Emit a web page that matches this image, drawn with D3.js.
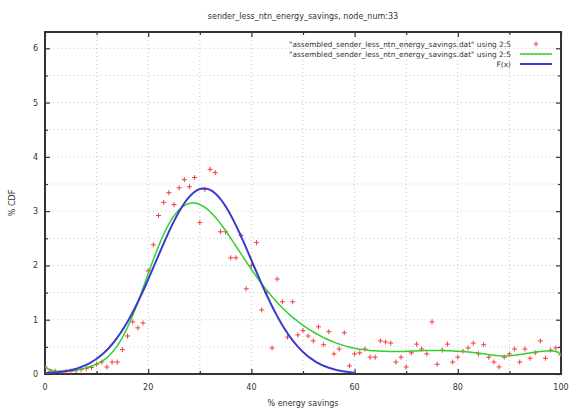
<!DOCTYPE html>
<html><head><meta charset="utf-8">
<script src="https://cdn.jsdelivr.net/npm/d3@7"></script>
<style>
body{margin:0;background:#fff;}
text{font-family:"DejaVu Sans",sans-serif;fill:#333;}
</style></head>
<body><svg id="c" width="571" height="414"></svg>
<script>
const title = "sender_less_ntn_energy_savings, node_num:33";
const xLabel = "% energy savings";
const yLabel = "% CDF";
const legendLabels = ['"assembled_sender_less_ntn_energy_savings.dat" using 2:5',
                      '"assembled_sender_less_ntn_energy_savings.dat" using 2:5',
                      'F(x)'];
const xTicks = [0, 20, 40, 60, 80, 100];
const yTicks = [0, 1, 2, 3, 4, 5, 6];
const xValues = d3.range(0, 101);
const yValues = [0.13,0.05,0.05,0.03,0.04,0.05,0.06,0.08,0.10,0.12,
  0.18,0.22,0.13,0.22,0.22,0.45,0.70,0.96,0.85,0.94,
  1.90,2.38,2.92,3.16,3.34,3.12,3.43,3.58,3.45,3.62,
  2.79,3.40,3.77,3.71,2.62,2.62,2.14,2.14,2.55,1.57,
  2.00,2.42,1.18,1.50,0.48,1.75,1.33,0.68,1.33,0.72,
  0.80,0.70,0.61,0.87,0.54,0.78,0.37,0.46,0.76,0.15,
  0.37,0.39,0.46,0.31,0.31,0.61,0.59,0.57,0.22,0.31,
  0.13,0.39,0.55,0.46,0.37,0.96,0.18,0.44,0.55,0.22,
  0.31,0.42,0.48,0.57,0.37,0.54,0.31,0.22,0.13,0.31,
  0.37,0.46,0.22,0.46,0.29,0.39,0.61,0.29,0.44,0.48,0.35];
// fitted Gaussian F(x) parameters
const fitA = 3.42, fitMu = 30.8, fitSigma = 9.3, fitRange = [0, 60];

const svg = d3.select("#c");
const L = 45, R = 561, T = 32, B = 374;
const x = d3.scaleLinear().domain([0, 100]).range([L, R]);
const y = d3.scaleLinear().domain([0, 6.3]).range([B, T]);

// grid
const g = svg.append("g");
g.selectAll(".gx").data(d3.range(10, 100, 10)).join("line")
  .attr("x1", d => x(d)).attr("x2", d => x(d)).attr("y1", T).attr("y2", B)
  .attr("stroke", "#bbb").attr("stroke-width", 0.8).attr("stroke-dasharray", "1,3");
g.selectAll(".gy").data(d3.range(0.5, 6.3, 0.5)).join("line")
  .attr("y1", d => y(d)).attr("y2", d => y(d)).attr("x1", L).attr("x2", R)
  .attr("stroke", "#bbb").attr("stroke-width", 0.8).attr("stroke-dasharray", "1,3");

// axes via d3
const ax = svg.append("g");
function tk(gen, pos, vals, size) {
  ax.append("g").attr("transform", pos).call(gen.tickValues(vals).tickSize(size).tickFormat(""))
    .call(s => s.select(".domain").remove());
}
tk(d3.axisTop(x), `translate(0,${B})`, xTicks, 5);
tk(d3.axisTop(x), `translate(0,${B})`, d3.range(10, 100, 20), 3);
tk(d3.axisBottom(x), `translate(0,${T})`, xTicks, 5);
tk(d3.axisBottom(x), `translate(0,${T})`, d3.range(10, 100, 20), 3);
tk(d3.axisRight(y), `translate(${L},0)`, yTicks, 5);
tk(d3.axisRight(y), `translate(${L},0)`, d3.range(0.5, 6.3, 1), 3);
tk(d3.axisLeft(y), `translate(${R},0)`, yTicks, 5);
tk(d3.axisLeft(y), `translate(${R},0)`, d3.range(0.5, 6.3, 1), 3);
ax.selectAll("line").attr("stroke", "#333").attr("stroke-width", 1.2);

// tick labels
svg.append("g").selectAll("text").data(xTicks).join("text")
  .attr("x", d => x(d)).attr("y", B + 16).attr("text-anchor", "middle")
  .attr("font-size", 8).text(d => d);
svg.append("g").selectAll("text").data(yTicks).join("text")
  .attr("x", L - 7).attr("y", d => y(d) + 3).attr("text-anchor", "end")
  .attr("font-size", 8).text(d => d);

// border
svg.append("rect").attr("x", L).attr("y", T).attr("width", R - L).attr("height", B - T)
  .attr("fill", "none").attr("stroke", "#333").attr("stroke-width", 2);

svg.append("defs").append("clipPath").attr("id", "cl")
  .append("rect").attr("x", L).attr("y", T).attr("width", R - L).attr("height", B - T);
const plot = svg.append("g").attr("clip-path", "url(#cl)");

const pts = xValues.map((v, i) => [v, yValues[i]]);

// bezier smoothing of the data (gnuplot "smooth bezier")
function bezier(points, t) {
  const p = points.map(d => d.slice());
  const n = p.length;
  for (let k = 1; k < n; k++)
    for (let i = 0; i < n - k; i++) {
      p[i][0] = p[i][0] * (1 - t) + p[i + 1][0] * t;
      p[i][1] = p[i][1] * (1 - t) + p[i + 1][1] * t;
    }
  return p[0];
}
const bz = d3.range(0, 1.0001, 0.005).map(t => bezier(pts, t));
const line = d3.line().x(d => x(d[0])).y(d => y(d[1]));

// red points
const P = 2.5;
plot.append("g").selectAll("path").data(pts).join("path")
  .attr("d", d => `M${x(d[0]) - P},${y(d[1])}h${2 * P}M${x(d[0])},${y(d[1]) - P}v${2 * P}`)
  .attr("stroke", "#f04040").attr("stroke-width", 1);

// green smooth
plot.append("path").datum(bz).attr("d", line)
  .attr("fill", "none").attr("stroke", "#30d030").attr("stroke-width", 1.5);

// blue F(x)
const fx = d3.range(fitRange[0], fitRange[1] + 0.001, 0.5)
  .map(v => [v, fitA * Math.exp(-((v - fitMu) ** 2) / (2 * fitSigma ** 2))]);
plot.append("path").datum(fx).attr("d", line)
  .attr("fill", "none").attr("stroke", "#3a3ad0").attr("stroke-width", 2);

// legend
const lg = svg.append("g");
const ly = [44, 54, 64];
lg.selectAll("text").data(legendLabels).join("text")
  .attr("x", 511).attr("y", (d, i) => ly[i] + 3).attr("text-anchor", "end")
  .attr("font-size", 7.4).text(d => d);
lg.append("path")
  .attr("d", `M${536 - P},${ly[0]}h${2 * P}M536,${ly[0] - P}v${2 * P}`)
  .attr("stroke", "#f04040").attr("stroke-width", 1);
lg.append("line").attr("x1", 520).attr("x2", 552).attr("y1", ly[1]).attr("y2", ly[1])
  .attr("stroke", "#30d030").attr("stroke-width", 1.5);
lg.append("line").attr("x1", 520).attr("x2", 552).attr("y1", ly[2]).attr("y2", ly[2])
  .attr("stroke", "#3a3ad0").attr("stroke-width", 2);

// titles
svg.append("text").attr("x", (L + R) / 2).attr("y", 19).attr("text-anchor", "middle")
  .attr("font-size", 8).text(title);
svg.append("text").attr("x", (L + R) / 2).attr("y", 406).attr("text-anchor", "middle")
  .attr("font-size", 8).text(xLabel);
svg.append("text").attr("transform", `translate(15,${(T + B) / 2}) rotate(-90)`)
  .attr("text-anchor", "middle").attr("font-size", 8).text(yLabel);
</script></body></html>
